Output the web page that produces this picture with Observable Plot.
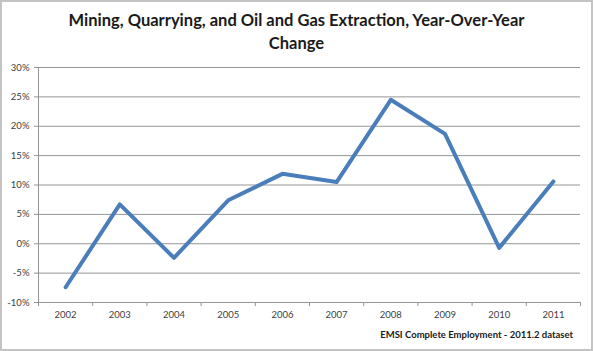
<!DOCTYPE html>
<html><head><meta charset="utf-8">
<script src="https://cdn.jsdelivr.net/npm/d3@7"></script>
<script src="https://cdn.jsdelivr.net/npm/@observablehq/plot@0.6"></script>
<style>
body{margin:0;background:#fff;}
#chart{position:relative;width:595px;height:351px;overflow:hidden;font-family:Lato,sans-serif;background:#fff;}
#frame{position:absolute;left:0;top:0;width:593px;height:351px;box-sizing:border-box;border:2px solid #c4c4c4;pointer-events:none;}
#title{position:absolute;left:0;width:593px;top:9px;text-align:center;font-weight:bold;font-size:15.5px;line-height:23px;color:#1a1a1a;white-space:nowrap;}
#plot{position:absolute;left:0;top:55px;}
#caption{position:absolute;right:22px;top:328.5px;font-weight:bold;font-size:9.5px;line-height:1.2;color:#1a1a1a;white-space:nowrap;}
</style></head>
<body>
<div id="chart">
  <div id="title"><span id="t1">Mining, Quarrying, and Oil and Gas Extraction, Year-Over-Year</span><br><span>Change</span></div>
  <div id="plot"></div>
  <div id="caption">EMSI Complete Employment - 2011.2 dataset</div>
  <div id="frame"></div>
</div>
<script>
const years = [2002, 2003, 2004, 2005, 2006, 2007, 2008, 2009, 2010, 2011];
const changes = [-7.4, 6.7, -2.4, 7.4, 11.9, 10.5, 24.5, 18.7, -0.7, 10.6];
const yTicks = [-10, -5, 0, 5, 10, 15, 20, 25, 30];

const data = years.map((year, i) => ({year, value: changes[i]}));
const xDomain = [years[0] - 0.5, years[years.length - 1] + 0.5];
const boundaries = d3.range(years.length + 1).map(i => xDomain[0] + i);

// fit title line width
(function fitTitle(){
  const c = document.createElement("canvas").getContext("2d");
  c.font = "bold 15.5px Lato";
  const w = c.measureText(document.getElementById("t1").textContent).width;
  const target = 457;
  const size = 15.5 * target / w;
  document.getElementById("title").style.fontSize = size.toFixed(2) + "px";
})();

const chart = Plot.plot({
  width: 595,
  height: 271,
  marginTop: 12,
  marginBottom: 24,
  marginLeft: 38,
  marginRight: 15,
  style: {fontFamily: "Lato, sans-serif", fontSize: "9.5px", color: "#404040", background: "transparent"},
  x: {type: "linear", domain: xDomain},
  y: {domain: [yTicks[0], yTicks[yTicks.length - 1]]},
  marks: [
    Plot.gridY(yTicks, {stroke: "#959595", strokeOpacity: 1, strokeWidth: 1}),
    Plot.ruleX([xDomain[0]], {stroke: "#959595", strokeWidth: 1}),
    Plot.axisY(yTicks, {tickSize: 4, tickPadding: 5, stroke: "#959595", tickFormat: d => d + "%", label: null}),
    Plot.axisX(boundaries, {tickSize: 4, stroke: "#959595", tickFormat: () => "", label: null}),
    Plot.axisX(years, {tickSize: 0, tickPadding: 9, tickFormat: d => String(d), label: null}),
    Plot.line(data, {x: "year", y: "value", stroke: "#4a7ebb", strokeWidth: 4})
  ]
});
document.getElementById("plot").appendChild(chart);
</script>
</body></html>
